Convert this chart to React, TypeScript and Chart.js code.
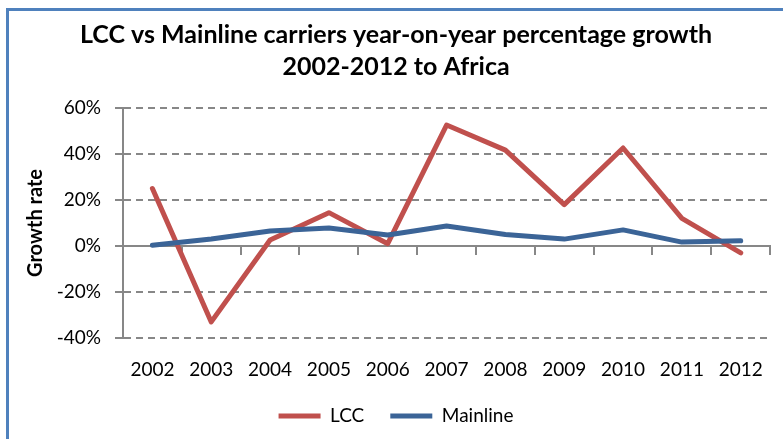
import React, { useEffect, useRef } from 'react';
import { Chart, registerables } from 'chart.js';

Chart.register(...registerables);

const years = ['2002', '2003', '2004', '2005', '2006', '2007', '2008', '2009', '2010', '2011', '2012'];
const lccGrowth = [25, -33, 2.6, 14.5, 1, 52.6, 41.7, 18, 42.6, 12, -3];
const mainlineGrowth = [0.3, 3, 6.5, 7.8, 4.8, 8.7, 5, 3, 7, 1.7, 2.3];
const yMin = -40;
const yMax = 60;
const yStep = 20;
const titleLines = ['LCC vs Mainline carriers year-on-year percentage growth', '2002-2012 to Africa'];
const yTitle = 'Growth rate';
const seriesNames = ['LCC', 'Mainline'];

const FONT = 'Lato, "Open Sans", sans-serif';
const GRID = '#878787';

export default function App() {
  const ref = useRef<HTMLCanvasElement>(null);
  useEffect(() => {
    if (!ref.current) return;
    const chart = new Chart(ref.current, {
      type: 'line',
      data: {
        labels: years,
        datasets: [
          {
            label: seriesNames[0],
            data: lccGrowth,
            borderColor: '#C0504D',
            backgroundColor: '#C0504D',
            borderWidth: 5,
            pointRadius: 0,
            tension: 0,
            borderCapStyle: 'round',
            borderJoinStyle: 'round',
            order: 2,
          },
          {
            label: seriesNames[1],
            data: mainlineGrowth,
            borderColor: '#3B6497',
            backgroundColor: '#3B6497',
            borderWidth: 5,
            pointRadius: 0,
            tension: 0,
            borderCapStyle: 'round',
            borderJoinStyle: 'round',
            order: 1,
          },
        ],
      },
      options: {
        animation: false,
        responsive: false,
        layout: { padding: { left: 14, right: 5, top: 0, bottom: 3.5 } },
        plugins: {
          title: {
            display: true,
            text: titleLines,
            color: '#000',
            font: { family: FONT, size: 25, weight: 'bold', lineHeight: 1.28 },
            padding: { top: 19, bottom: 25 },
          },
          legend: {
            position: 'bottom',
            labels: {
              usePointStyle: true,
              pointStyle: 'line',
              pointStyleWidth: 42,
              color: '#000',
              font: { family: FONT, size: 19 },
              padding: 26,
              sort: (a: any, b: any) => a.datasetIndex - b.datasetIndex,
            },
          },
          tooltip: { enabled: false },
        },
        scales: {
          x: {
            type: 'category',
            offset: true,
            grid: { display: false, drawTicks: false },
            border: { display: false },
            ticks: { color: '#000', font: { family: FONT, size: 19 }, padding: 20, maxRotation: 0 },
            afterFit: (s: any) => {
              s.height = 42.5;
            },
          },
          x2: {
            type: 'category',
            labels: years,
            offset: true,
            position: { y: 0 },
            grid: {
              offset: true,
              drawOnChartArea: false,
              drawTicks: true,
              tickLength: 8,
              color: GRID,
              lineWidth: 2,
            },
            border: { display: true, color: GRID, width: 2 },
            ticks: { display: false },
          },
          y: {
            min: yMin,
            max: yMax,
            ticks: {
              stepSize: yStep,
              color: '#000',
              font: { family: FONT, size: 19 },
              padding: 14,
              callback: (v: any) => `${v}%`,
            },
            grid: {
              color: (ctx: any) => (ctx.tick && ctx.tick.value === 0 ? 'rgba(0,0,0,0)' : GRID),
              tickColor: GRID,
              lineWidth: 2,
              tickLength: 8,
            },
            border: { display: true, color: GRID, width: 2, dash: [7, 5] },
            title: {
              display: true,
              text: yTitle,
              color: '#000',
              font: { family: FONT, size: 20, weight: 'bold', lineHeight: 1.2 },
              padding: { top: 10, bottom: 0 },
            },
            afterFit: (s: any) => {
              s.width = 109;
            },
          },
        },
      } as any,
    });
    return () => chart.destroy();
  }, []);

  return (
    <div style={{ position: 'absolute', left: 0, top: 0, width: 783, height: 439, background: '#fff', overflow: 'hidden' }}>
      <div
        style={{
          position: 'absolute',
          left: 6,
          top: 8,
          width: 800,
          height: 460,
          borderLeft: '3px solid #4F81BD',
          borderTop: '3px solid #4F81BD',
          boxSizing: 'border-box',
        }}
      />
      <canvas ref={ref} width={783} height={439} style={{ position: 'absolute', left: 0, top: 0 }} />
    </div>
  );
}
